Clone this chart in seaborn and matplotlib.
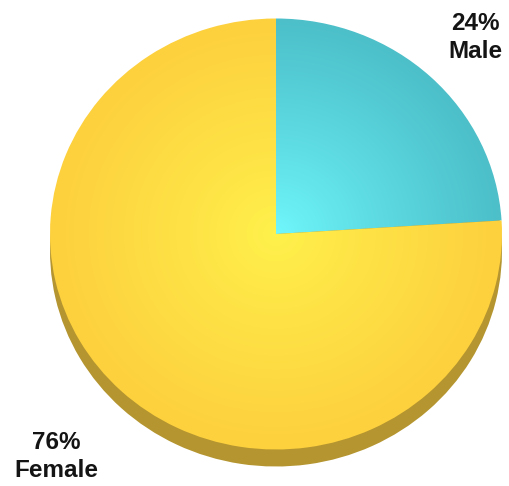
import numpy as np
import matplotlib
matplotlib.use("Agg")
import matplotlib.pyplot as plt
import seaborn as sns
from matplotlib.colors import to_rgb

# Data
categories = ["Male", "Female"]
shares = [24, 76]
labels = ["24%\nMale", "76%\nFemale"]

# Styling
center_colors = ["#70f8fd", "#fff24c"]
edge_colors = ["#4cbfc9", "#fdd03e"]
rim_color = "#b4952f"

sns.set_theme(style="white")
plt.rcParams["font.family"] = ["Liberation Sans", "DejaVu Sans"]

W, H = 509, 486
fig = plt.figure(figsize=(W / 100, H / 100), dpi=100)
ax = fig.add_axes([0, 0, 1, 1])

# Pie geometry (pixels); vertical squash gives the tilted look
cx, cy_px = 276, 234
rx, ry = 226, 215.5
depth = 17
k = rx / ry
cy = (H - cy_px) * k

# Side / depth of the pie: same wedges shifted downwards
ax.pie(shares, startangle=90, counterclock=False, radius=rx,
       center=(cx, cy - depth * k), colors=[rim_color] * 2,
       wedgeprops=dict(linewidth=0))

wedges, _ = ax.pie(shares, startangle=90, counterclock=False, radius=rx,
                   center=(cx, cy), colors=["none", "none"],
                   wedgeprops=dict(linewidth=0))

ax.set_xlim(0, W)
ax.set_ylim(0, H * k)
ax.set_aspect("auto")
ax.axis("off")

# Radial shading for each wedge
xs = np.linspace(0, W, W)
ys = np.linspace(H * k, 0, H)
X, Y = np.meshgrid(xs, ys)
R = np.clip(np.hypot((X - cx) / rx, (Y - cy) / rx), 0, 1)[..., None] ** 0.85
for w, c0, c1 in zip(wedges, center_colors, edge_colors):
    img = np.array(to_rgb(c0)) * (1 - R) + np.array(to_rgb(c1)) * R
    im = ax.imshow(img, extent=(0, W, 0, H * k), origin="upper",
                   aspect="auto", interpolation="bilinear", zorder=2)
    im.set_clip_path(w)

ax.set_xlim(0, W)
ax.set_ylim(0, H * k)

# Labels
label_pos = [(475, 30), (56, 449)]
for (lx, ly), txt in zip(label_pos, labels):
    top, bottom = txt.split("\n")
    ax.text(lx, (H - ly) * k, top, ha="center", va="baseline",
            fontsize=17.5, fontweight="bold", color="#141414", zorder=5)
    ax.text(lx, (H - ly - 28) * k, bottom, ha="center", va="baseline",
            fontsize=17.5, fontweight="bold", color="#141414", zorder=5)

fig.savefig("out.png", dpi=100)
